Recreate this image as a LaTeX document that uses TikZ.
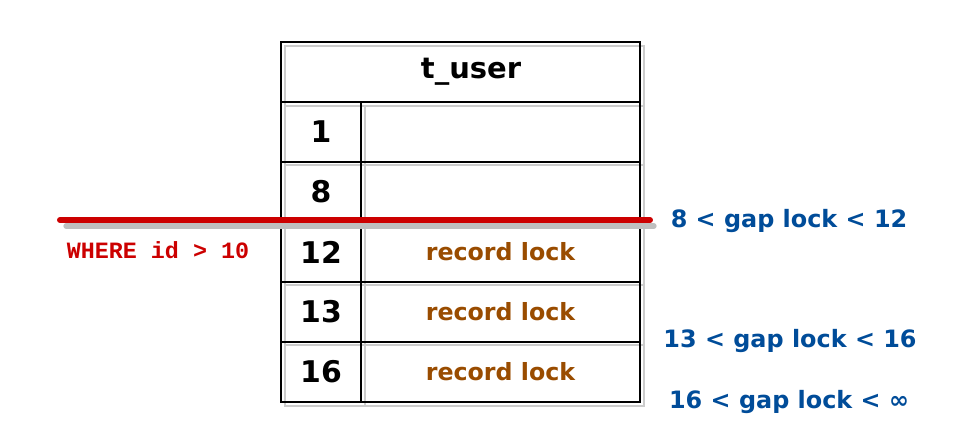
\documentclass[tikz,border=0pt]{standalone}
\usepackage{fontspec}
\setmainfont{DejaVu Sans}
\newfontfamily\sqlfont{Liberation Mono}
\usetikzlibrary{
    positioning,
    backgrounds
}
\definecolor{lockred}{HTML}{CC0000}
\definecolor{lockbrown}{HTML}{994C00}
\definecolor{lockblue}{HTML}{004C99}

\tikzset{
    cell/.style={draw, line width=1.1pt, inner sep=0pt, outer sep=0pt,
        minimum height=1.2cm},
    hdrcell/.style={cell, minimum width=7.18cm,
        font=\fontsize{16.5}{19}\selectfont\bfseries},
    idcell/.style={cell, minimum width=1.6cm,
        font=\fontsize{17}{20}\selectfont\bfseries},
    lockcell/.style={cell, minimum width=5.58cm, text=lockbrown,
        font=\fontsize{13.5}{16}\selectfont\bfseries},
    shadowline/.style={draw=gray!40, line width=1.5pt},
    cutline/.style={draw=lockred, line width=3.4pt, line cap=round},
    gaplabel/.style={text=lockblue, font=\fontsize{13.6}{16}\selectfont\bfseries},
    sqllabel/.style={text=lockred, font=\sqlfont\fontsize{13.3}{16}\selectfont\bfseries}
}

\begin{document}
\begin{tikzpicture}[x=0.02cm, y=-0.02cm]
    \useasboundingbox (0, 0) rectangle (964, 442);

    % table
    \node[hdrcell] (hdr) at (460.5, 72) {\hspace*{12pt}t\_user};
    \node[idcell, anchor=north west] (id1) at (hdr.south west) {1};
    \node[lockcell, right=0pt of id1] (lk1) {};
    \node[idcell, below=0pt of id1] (id8) {8};
    \node[lockcell, right=0pt of id8] (lk8) {};
    \node[idcell, below=0pt of id8] (id12) {12};
    \node[lockcell, right=0pt of id12] (lk12) {record lock};
    \node[idcell, below=0pt of id12] (id13) {13};
    \node[lockcell, right=0pt of id13] (lk13) {record lock};
    \node[idcell, below=0pt of id13] (id16) {16};
    \node[lockcell, right=0pt of id16] (lk16) {record lock};

    % sketchy shadow
    \begin{scope}[on background layer]
        \draw[shadowline] ([shift={(4, 4)}]hdr.north west) rectangle ([shift={(4, 4)}]lk16.south east);
        \draw[shadowline] ([shift={(4, 4)}]hdr.south west) -- ([shift={(4, 4)}]hdr.south east);
        \draw[shadowline] ([shift={(4, 4)}]id1.north east) -- ([shift={(4, 4)}]id16.south east);
        \draw[shadowline] ([shift={(4, 3)}]id1.south west) -- ([shift={(4, 3)}]lk1.south east);
        \draw[shadowline] ([shift={(4, 3)}]id8.south west) -- ([shift={(4, 3)}]lk8.south east);
        \draw[shadowline] ([shift={(4, 3)}]id12.south west) -- ([shift={(4, 3)}]lk12.south east);
        \draw[shadowline] ([shift={(4, 3)}]id13.south west) -- ([shift={(4, 3)}]lk13.south east);
    \end{scope}

    % where cut
    \coordinate (cutL) at (60, 220);
    \coordinate (cutR) at (650, 220);
    \draw[draw=gray!50, line width=3pt, line cap=round] ([shift={(6, 6)}]cutL) -- ([shift={(4, 6)}]cutR);
    \draw[cutline] (cutL) -- (cutR);
    \node[sqllabel] (where) at (158, 250) {WHERE id > 10};

    % gap locks
    \node[gaplabel] (gap1) at (789, 221) {8 < gap lock < 12};
    \node[gaplabel] (gap2) at (790, 341) {13 < gap lock < 16};
    \node[gaplabel] (gap3) at (789, 402) {16 < gap lock < ∞};
\end{tikzpicture}
\end{document}
